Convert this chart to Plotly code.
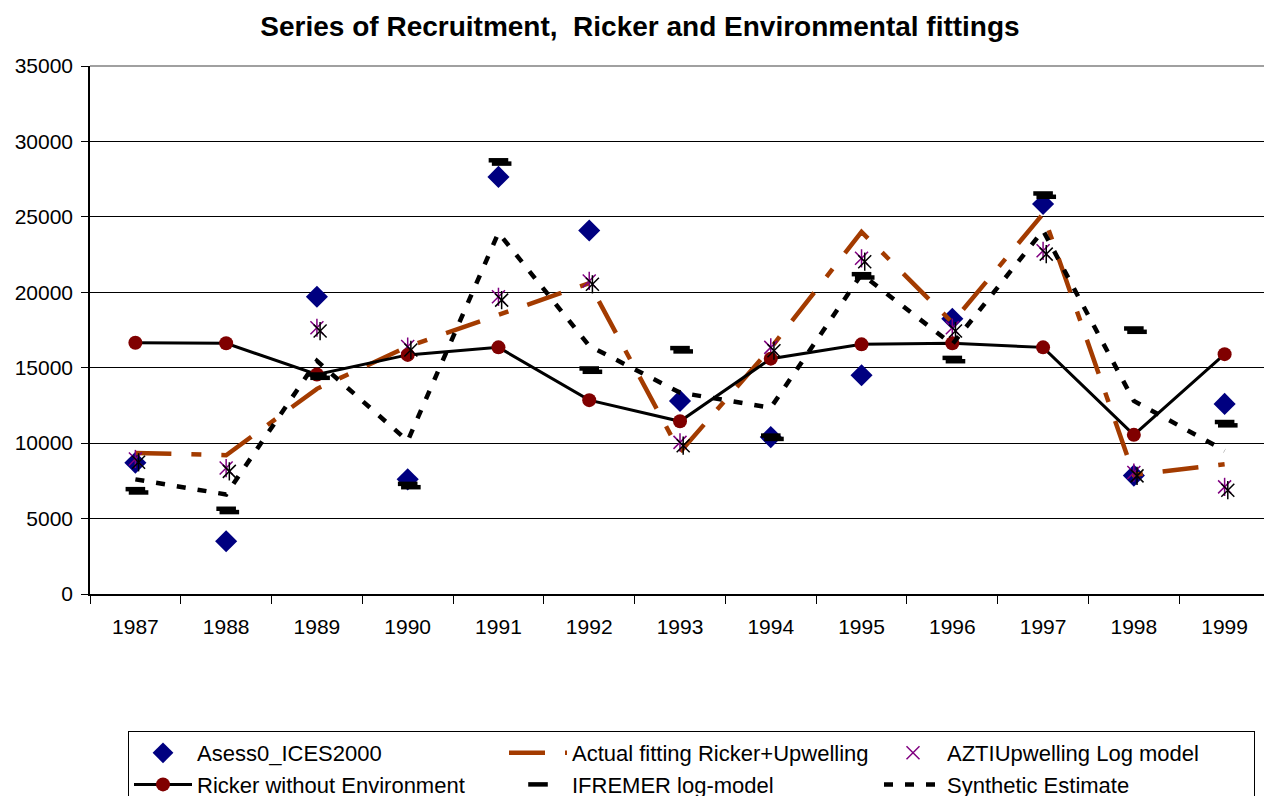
import plotly.graph_objects as go

years = ["1987", "1988", "1989", "1990", "1991", "1992", "1993",
         "1994", "1995", "1996", "1997", "1998", "1999"]

asess0_ices2000 = [8700, 3500, 19700, 7600, 27650, 24100, 12800,
                   10400, 14500, 18250, 25850, 7850, 12600]
actual_ricker_upwelling = [9350, 9200, 13600, 16400, 18500, 20600, 9400,
                           16300, 24000, 18000, 25200, 7900, 8600]
azti_upwelling_log = [8950, 8350, 17650, 16400, 19700, 20750, 10050,
                      16350, 22250, 17650, 22750, 8050, 7100]
ricker_no_env = [16650, 16620, 14550, 15850, 16350, 12850, 11450,
                 15600, 16550, 16620, 16350, 10550, 15900]
ifremer_log = [6950, 5650, 14550, 7300, 28750, 14950, 16300,
               10500, 21200, 15650, 26550, 17600, 11400]
synthetic_estimate = [7600, 6600, 15450, 10150, 23950, 16450, 13350,
                      12350, 21200, 16550, 24100, 12800, 9500]

yticks = [0, 5000, 10000, 15000, 20000, 25000, 30000, 35000]

FONT = "Arial, Liberation Sans, sans-serif"
NAVY = "#000080"
BROWN = "#A33B00"
PURPLE = "#800080"
DARKRED = "#800000"

# page has an 8px body margin: figure is sized/offset to compensate
W, H = 1264, 788
L, R, T, B = 82, 2, 58, 202
PW, PH = W - L - R, H - T - B

fig = go.Figure()

fig.add_trace(go.Scatter(
    x=years, y=asess0_ices2000, name="Asess0_ICES2000", mode="markers",
    marker=dict(symbol="diamond", size=17, color=NAVY, line=dict(width=0))))

fig.add_trace(go.Scatter(
    x=years, y=actual_ricker_upwelling, name="Actual fitting Ricker+Upwelling",
    mode="lines", line=dict(color=BROWN, width=4.5,
                            dash="36px,20px,10px,20px")))

# black shadow copies of the star markers (slightly shifted axes)
fig.add_trace(go.Scatter(
    x=years, y=azti_upwelling_log, mode="markers", showlegend=False,
    xaxis="x2", yaxis="y2", hoverinfo="skip",
    marker=dict(symbol="x-thin-open", size=13, color="black",
                line=dict(color="black", width=1.5))))
fig.add_trace(go.Scatter(
    x=years, y=azti_upwelling_log, mode="markers", showlegend=False,
    xaxis="x2", yaxis="y2", hoverinfo="skip",
    marker=dict(symbol="line-ns-open", size=13, color="black",
                line=dict(color="black", width=1.5))))

fig.add_trace(go.Scatter(
    x=years, y=azti_upwelling_log, name="AZTIUpwelling Log model", mode="markers",
    marker=dict(symbol="x-thin-open", size=13, color=PURPLE,
                line=dict(color=PURPLE, width=1.5))))
fig.add_trace(go.Scatter(
    x=years, y=azti_upwelling_log, mode="markers", showlegend=False,
    hoverinfo="skip",
    marker=dict(symbol="line-ns-open", size=13, color=PURPLE,
                line=dict(color=PURPLE, width=1.5))))

fig.add_trace(go.Scatter(
    x=years, y=ricker_no_env, name="Ricker without Environment",
    mode="lines+markers", line=dict(color="black", width=3),
    marker=dict(symbol="circle", size=14, color=DARKRED, line=dict(width=0))))

fig.add_trace(go.Scatter(
    x=years, y=ifremer_log, mode="markers", showlegend=False,
    xaxis="x2", yaxis="y2", hoverinfo="skip",
    marker=dict(symbol="line-ew-open", size=14, color="black",
                line=dict(color="black", width=4.5))))
fig.add_trace(go.Scatter(
    x=years, y=ifremer_log, name="IFREMER log-model", mode="markers",
    marker=dict(symbol="line-ew-open", size=14, color="black",
                line=dict(color="black", width=4.5))))

fig.add_trace(go.Scatter(
    x=years, y=synthetic_estimate, name="Synthetic Estimate", mode="lines",
    line=dict(color="black", width=4.5, dash="9px,12px")))

fig.update_layout(
    width=W, height=H,
    paper_bgcolor="white", plot_bgcolor="white",
    margin=dict(l=L, r=R, t=T, b=B, autoexpand=False),
    font=dict(family=FONT, size=21, color="black"),
    title=dict(text="Series of Recruitment,  Ricker and Environmental fittings",
               x=0.5, xanchor="center", y=1 - 18 / H, yanchor="middle",
               yref="container",
               font=dict(family=FONT, size=28, color="black", weight="bold")),
    showlegend=True,
    legend=dict(orientation="h", x=(120 - L) / PW, xanchor="left",
                y=(H - B - 723) / PH, yanchor="top",
                entrywidth=302, entrywidthmode="pixels", itemwidth=58,
                bordercolor="black", borderwidth=1, bgcolor="white",
                font=dict(family=FONT, size=22, color="black"),
                traceorder="normal", itemsizing="trace"),
    xaxis=dict(type="category", categoryorder="array", categoryarray=years,
               range=[-0.5, 12.5], showgrid=False, showline=True,
               linecolor="black", linewidth=1.5, ticks="outside",
               tickson="boundaries", ticklen=8, tickcolor="black",
               tickwidth=1, ticklabelstandoff=13,
               tickfont=dict(family=FONT, size=21, color="black"),
               zeroline=False, fixedrange=True),
    xaxis2=dict(type="category", categoryorder="array", categoryarray=years,
                overlaying="x", range=[-0.5 - 0.035, 12.5 - 0.035],
                visible=False, fixedrange=True),
    yaxis=dict(range=[0, 35000], tickvals=yticks, tickformat="d",
               showgrid=True, gridcolor="black", gridwidth=1,
               showline=True, linecolor="black", linewidth=1.5,
               ticks="outside", ticklen=7, tickcolor="black",
               ticklabelstandoff=4,
               tickfont=dict(family=FONT, size=21, color="black"),
               zeroline=False, fixedrange=True),
    yaxis2=dict(range=[220, 35220], overlaying="y", visible=False,
                fixedrange=True),
    shapes=[
        dict(type="line", xref="paper", yref="paper", x0=0, x1=1, y0=1, y1=1,
             line=dict(color="#808080", width=1.5), layer="above"),
        dict(type="line", xref="paper", yref="paper", x0=1, x1=1, y0=0, y1=1,
             line=dict(color="#808080", width=1.5), layer="above"),
    ],
)

fig.write_html("out.html")
